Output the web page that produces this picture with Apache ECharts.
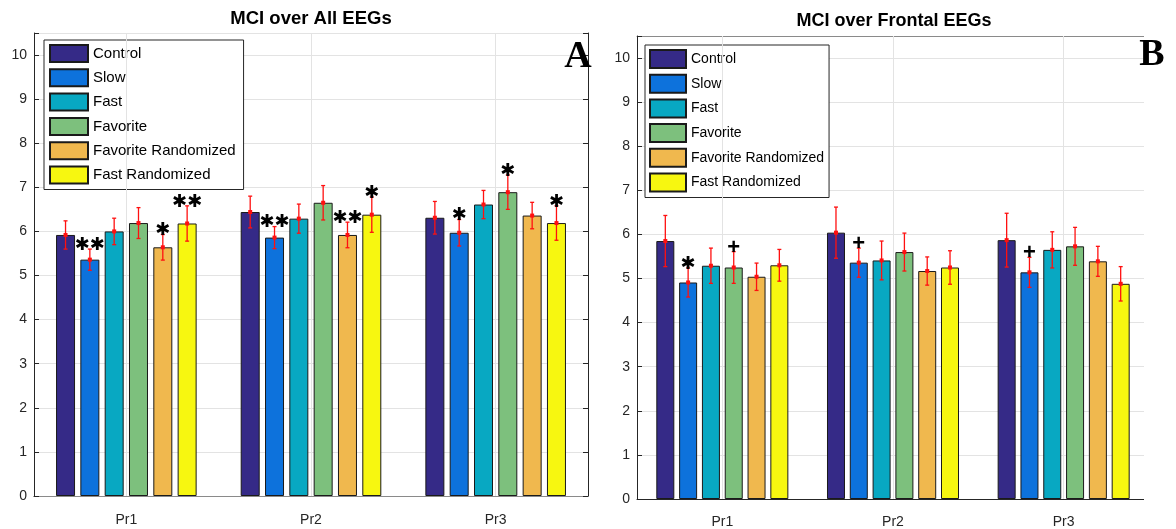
<!DOCTYPE html>
<html>
<head>
<meta charset="utf-8">
<title>MCI over EEGs</title>
<script src="https://cdn.jsdelivr.net/npm/echarts@6/dist/echarts.min.js"></script>
<style>
  html, body { margin: 0; padding: 0; background: #fff; }
  #chart { width: 1176px; height: 529px; }
</style>
</head>
<body>
<div id="chart"></div>
<script>
const categories = ['Pr1', 'Pr2', 'Pr3'];
const groups = ['Control', 'Slow', 'Fast', 'Favorite', 'Favorite Randomized', 'Fast Randomized'];
const yTicks = [0, 10.5, 1];

// panel A: MCI over all EEGs (one row per group, one value per Pr)
const allMeans = [
  [5.92, 6.44, 6.31],
  [5.36, 5.86, 5.97],
  [6.00, 6.29, 6.61],
  [6.19, 6.65, 6.89],
  [5.64, 5.92, 6.36],
  [6.18, 6.38, 6.19]
];
const allErrors = [
  [0.32, 0.36, 0.37],
  [0.24, 0.25, 0.30],
  [0.30, 0.33, 0.32],
  [0.35, 0.39, 0.39],
  [0.29, 0.29, 0.30],
  [0.40, 0.40, 0.39]
];
const allMarks = [
  ['', '', ''],
  ['✱✱', '✱✱', '✱'],
  ['', '', ''],
  ['', '', '✱'],
  ['✱', '✱✱', ''],
  ['✱✱', '✱', '✱']
];

// panel B: MCI over frontal EEGs
const frontalMeans = [
  [5.85, 6.04, 5.87],
  [4.91, 5.36, 5.14],
  [5.29, 5.41, 5.65],
  [5.25, 5.60, 5.73],
  [5.04, 5.17, 5.39],
  [5.30, 5.25, 4.88]
];
const frontalErrors = [
  [0.58, 0.58, 0.61],
  [0.33, 0.33, 0.34],
  [0.40, 0.44, 0.41],
  [0.36, 0.43, 0.43],
  [0.31, 0.32, 0.34],
  [0.36, 0.38, 0.39]
];
const frontalMarks = [
  ['', '', ''],
  ['✱', '+', '+'],
  ['', '', ''],
  ['+', '', ''],
  ['', '', ''],
  ['', '', '']
];

const colors = ['#352a87', '#0d72dc', '#08a8c2', '#7dc07d', '#f0b84e', '#f7f710'];
const FONT = 'Liberation Sans';

const chart = echarts.init(document.getElementById('chart'));

// bar series for one panel
const makeBars = (means, axis, barWidth, barGap) =>
  groups.map((name, s) => ({
    name: name,
    type: 'bar',
    xAxisIndex: axis.x,
    yAxisIndex: axis.y,
    barWidth: barWidth,
    barGap: barGap,
    itemStyle: { color: colors[s], borderColor: '#1a1a1a', borderWidth: 1 },
    data: means[s],
    z: 2
  }));

// vertical grid lines at the group centres (empty line series carrying a markLine)
const makeCentreLines = (axis) => ({
  type: 'line',
  xAxisIndex: axis.x,
  yAxisIndex: axis.y,
  data: [],
  z: 1,
  silent: true,
  markLine: {
    silent: true,
    symbol: ['none', 'none'],
    label: { show: false },
    lineStyle: { color: '#e3e3e3', type: 'solid', width: 1 },
    data: categories.map((c) => ({ xAxis: c }))
  }
});

// error bars + significance marks, placed on top of each bar
const makeErrors = (means, errors, marks, axis, step) => {
  const items = [];
  for (let s = 0; s < groups.length; s++) {
    for (let c = 0; c < categories.length; c++) {
      items.push({ value: [c, s, means[s][c], errors[s][c]], mark: marks[s][c] });
    }
  }
  return {
    type: 'custom',
    xAxisIndex: axis.x,
    yAxisIndex: axis.y,
    z: 3,
    silent: true,
    data: items,
    renderItem: (params, api) => {
      const c = api.value(0);
      const s = api.value(1);
      const mean = api.value(2);
      const err = api.value(3);
      const dx = (s - 2.5) * step;
      const hi = api.coord([c, mean + err]);
      const lo = api.coord([c, mean - err]);
      const mid = api.coord([c, mean]);
      const x = mid[0] + dx;
      const red = '#ff1010';
      const children = [
        { type: 'line', shape: { x1: x, y1: hi[1], x2: x, y2: lo[1] }, style: { stroke: red, lineWidth: 1.3 } },
        { type: 'line', shape: { x1: x - 2, y1: hi[1], x2: x + 2, y2: hi[1] }, style: { stroke: red, lineWidth: 1.3 } },
        { type: 'line', shape: { x1: x - 2, y1: lo[1], x2: x + 2, y2: lo[1] }, style: { stroke: red, lineWidth: 1.3 } },
        { type: 'rect', shape: { x: x - 2, y: mid[1] - 2, width: 4, height: 4 }, style: { fill: red } }
      ];
      const mark = items[params.dataIndex].mark;
      if (mark) {
        const plus = mark === '+';
        children.push({
          type: 'text',
          x: x,
          y: hi[1] - 4,
          style: {
            text: mark,
            fill: '#000',
            align: 'center',
            verticalAlign: 'middle',
            fontFamily: plus ? FONT : 'DejaVu Sans',
            fontWeight: 'bold',
            fontSize: plus ? 22 : 18
          }
        });
      }
      return { type: 'group', children: children };
    }
  };
};

const yAxisBase = {
  type: 'value',
  min: yTicks[0],
  max: yTicks[1],
  interval: yTicks[2]
};

const makeLegend = (left, top, itemW, itemH, gap, fontSize, padding) => ({
  orient: 'vertical',
  left: left,
  top: top,
  padding: padding,
  itemWidth: itemW,
  itemHeight: itemH,
  itemGap: gap,
  icon: 'rect',
  backgroundColor: '#fff',
  borderColor: '#262626',
  borderWidth: 1,
  borderRadius: 0,
  selectedMode: false,
  textStyle: { fontSize: fontSize, fontFamily: FONT, color: '#000' },
  data: groups
});

const bottomX = (grid, margin) => ({
  type: 'category',
  gridIndex: grid,
  data: categories,
  axisLine: { lineStyle: { color: '#262626' } },
  axisTick: { inside: true, alignWithLabel: true, length: 4, lineStyle: { color: '#262626' } },
  axisLabel: { fontSize: 14, fontFamily: FONT, color: '#262626', margin: margin },
  splitLine: { show: false }
});

const topX = (grid) => ({
  type: 'category',
  gridIndex: grid,
  position: 'top',
  data: categories,
  axisLine: { lineStyle: { color: '#8a8a8a' } },
  axisTick: { inside: true, alignWithLabel: true, length: 4, lineStyle: { color: '#262626' } },
  axisLabel: { show: false },
  splitLine: { show: false }
});

const leftY = (grid) => Object.assign({}, yAxisBase, {
  gridIndex: grid,
  axisLine: { show: true, lineStyle: { color: '#262626' } },
  axisTick: { show: true, inside: true, length: 5, lineStyle: { color: '#262626' } },
  axisLabel: {
    fontSize: 14, fontFamily: FONT, color: '#262626', margin: 7,
    formatter: (v) => (Number.isInteger(v) ? String(v) : '')
  },
  splitLine: { show: true, lineStyle: { color: '#e3e3e3', width: 1 } }
});

const option = {
  animation: false,
  backgroundColor: '#fff',
  grid: [
    { left: 34, top: 33, width: 554, height: 463 },
    { left: 637, top: 36, width: 512, height: 463 }
  ],
  legend: [
    makeLegend(44, 40, 38, 17, 5.3, 15, [4, 8, 5, 5]),
    makeLegend(645, 45, 36, 18, 4.7, 14, [4, 5, 5, 4])
  ],
  xAxis: [bottomX(0, 17), topX(0), bottomX(1, 16), topX(1)],
  yAxis: [
    leftY(0),
    Object.assign({}, yAxisBase, {
      gridIndex: 0,
      position: 'right',
      axisLine: { show: true, lineStyle: { color: '#262626' } },
      axisTick: { show: true, inside: true, length: 5, lineStyle: { color: '#262626' } },
      axisLabel: { show: false },
      splitLine: { show: false }
    }),
    leftY(1)
  ],
  graphic: [
    // right panel is cut off a little past its last group
    { type: 'rect', z: 100, shape: { x: 1144, y: 28, width: 12, height: 474 }, style: { fill: '#fff' } },
    {
      type: 'text', z: 101, x: 311, y: 19,
      style: { text: 'MCI over All EEGs', align: 'center', verticalAlign: 'middle', fontFamily: FONT, fontWeight: 'bold', fontSize: 18.5, fill: '#000' }
    },
    {
      type: 'text', z: 101, x: 894, y: 21,
      style: { text: 'MCI over Frontal EEGs', align: 'center', verticalAlign: 'middle', fontFamily: FONT, fontWeight: 'bold', fontSize: 18, fill: '#000' }
    },
    {
      type: 'text', z: 101, x: 578, y: 57,
      style: { text: 'A', align: 'center', verticalAlign: 'middle', fontFamily: 'Liberation Serif', fontWeight: 'bold', fontSize: 38, fill: '#000' }
    },
    {
      type: 'text', z: 101, x: 1152, y: 55,
      style: { text: 'B', align: 'center', verticalAlign: 'middle', fontFamily: 'Liberation Serif', fontWeight: 'bold', fontSize: 38, fill: '#000' }
    }
  ],
  series: [
    makeCentreLines({ x: 0, y: 0 }),
    ...makeBars(allMeans, { x: 0, y: 0 }, 19, '28%'),
    makeErrors(allMeans, allErrors, allMarks, { x: 0, y: 0 }, 19 * 1.28),
    makeCentreLines({ x: 2, y: 2 }),
    ...makeBars(frontalMeans, { x: 2, y: 2 }, 18, '26.7%'),
    makeErrors(frontalMeans, frontalErrors, frontalMarks, { x: 2, y: 2 }, 18 * 1.267)
  ]
};

chart.setOption(option);
</script>
</body>
</html>
